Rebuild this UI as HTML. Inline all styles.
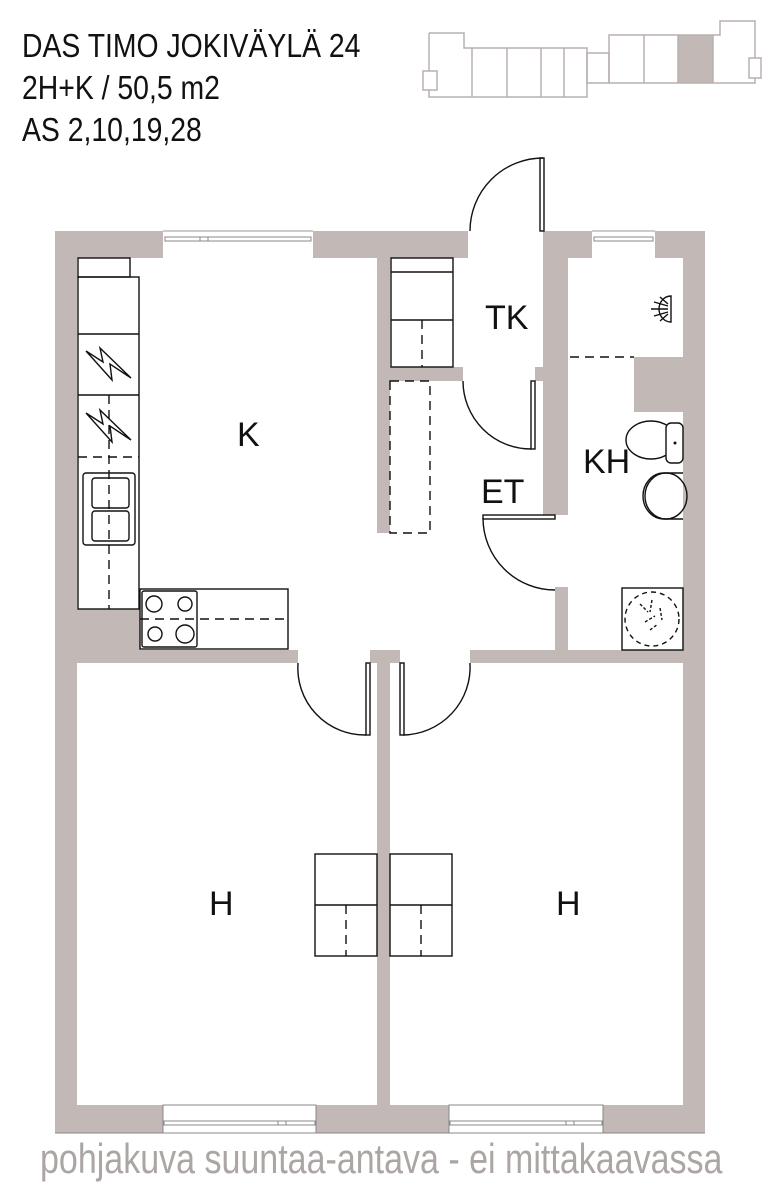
<!DOCTYPE html>
<html><head><meta charset="utf-8"><style>
html,body{margin:0;padding:0;background:#fff;}
svg{display:block;}
</style></head><body>
<svg width="782" height="1200" viewBox="0 0 782 1200" xmlns="http://www.w3.org/2000/svg" font-family="Liberation Sans, sans-serif">
<rect width="782" height="1200" fill="#fff"/>
<!-- Title -->
<g fill="#111" font-size="33">
<text x="22" y="57" transform="translate(22 0) scale(0.86 1) translate(-22 0)">DAS TIMO JOKIVÄYLÄ 24</text>
<text x="22" y="99" transform="translate(22 0) scale(0.86 1) translate(-22 0)">2H+K / 50,5 m2</text>
<text x="22" y="141" transform="translate(22 0) scale(0.86 1) translate(-22 0)">AS 2,10,19,28</text>
</g>
<!-- thumbnail -->
<rect x="678" y="35" width="35" height="48" fill="#c2b9b6"/>
<g fill="none" stroke="#b8b0ad" stroke-width="1.5">
<polyline points="429,33 464,33 464,48 587,48 587,97 429,97 429,33"/>
<rect x="423" y="71" width="14" height="19" fill="#fff"/>
<line x1="472" y1="48" x2="472" y2="97"/><line x1="507" y1="48" x2="507" y2="97"/><line x1="541" y1="48" x2="541" y2="97"/><line x1="564" y1="48" x2="564" y2="97"/>
<rect x="587" y="53" width="22" height="30"/>
<polyline points="609,83 609,35 720,35 720,21 755,21 755,83 609,83"/>
<line x1="644" y1="35" x2="644" y2="83"/><line x1="678" y1="35" x2="678" y2="83"/><line x1="713" y1="35" x2="713" y2="83"/>
<rect x="749" y="58" width="12" height="20" fill="#fff"/>
</g>

<!-- walls -->
<g fill="#c2b9b6">
<rect x="55" y="231" width="413" height="27"/>
<rect x="543" y="231" width="162" height="27"/>
<rect x="55" y="231" width="22" height="902"/>
<rect x="683" y="231" width="22" height="902"/>
<rect x="55" y="1105" width="650" height="28"/>
<rect x="77" y="650" width="221" height="13"/>
<rect x="370" y="650" width="30" height="13"/>
<rect x="470" y="650" width="213" height="13"/>
<rect x="77" y="609" width="63" height="41"/>
<rect x="377" y="650" width="13" height="455"/>
<rect x="377" y="258" width="13" height="275"/>
<rect x="377" y="367" width="86" height="14"/>
<rect x="543" y="258" width="12" height="257"/>
<rect x="535" y="367" width="20" height="14"/>
<rect x="555" y="258" width="13" height="257"/>
<rect x="555" y="587" width="13" height="63"/>
<rect x="634" y="357" width="49" height="55"/>
</g>
<g stroke="#888" stroke-width="1"><line x1="55" y1="1133" x2="705" y2="1133"/></g>
<!-- windows -->
<g fill="#fff" stroke="#888" stroke-width="1">
<rect x="163" y="231" width="150" height="27" stroke="none"/>
<rect x="592" y="231" width="63" height="27" stroke="none"/>
<rect x="163" y="1105" width="153" height="28"/>
<rect x="449" y="1105" width="154" height="28"/>
<rect x="165" y="237" width="146" height="4"/><rect x="200" y="237" width="8" height="4"/>
<rect x="594" y="237" width="59" height="4"/>
<rect x="164" y="1121" width="151" height="4"/><rect x="278" y="1121" width="8" height="4"/>
<rect x="450" y="1121" width="152" height="4"/><rect x="566" y="1121" width="8" height="4"/>
</g>
<g stroke="#999" stroke-width="1"><line x1="163" y1="231" x2="313" y2="231"/><line x1="592" y1="231" x2="655" y2="231"/></g>

<!-- fixtures -->
<g fill="none" stroke="#111" stroke-width="1.4">
<rect x="78" y="258" width="52" height="19"/>
<rect x="78" y="277" width="61" height="332"/>
<line x1="78" y1="334" x2="139" y2="334"/>
<line x1="78" y1="395" x2="139" y2="395"/>
<polyline points="86,351 103,362 100,348 131,378 110,364 112,380 86,351"/>
<polyline points="86,413 103,424 100,410 131,440 110,426 112,442 86,413"/>
<rect x="83" y="473" width="52" height="72" rx="3"/>
<rect x="92" y="478" width="37" height="30" rx="3"/>
<rect x="92" y="511" width="37" height="30" rx="3"/>
<rect x="140" y="589" width="148" height="60"/>
<rect x="142" y="591" width="55" height="56" rx="2"/>
<circle cx="154" cy="604" r="8"/><circle cx="185" cy="604" r="7"/>
<circle cx="155" cy="634" r="7"/><circle cx="185" cy="634" r="9"/>
<rect x="391" y="258" width="62" height="109"/>
<line x1="391" y1="272" x2="453" y2="272"/>
<line x1="391" y1="320" x2="453" y2="320"/>
<rect x="315" y="854" width="62" height="102"/>
<line x1="315" y1="905" x2="377" y2="905"/>
<rect x="390" y="854" width="62" height="102"/>
<line x1="390" y1="905" x2="452" y2="905"/>
<rect x="622" y="588" width="61" height="62"/>
<path d="M470,231 A73,73 0 0 1 543,158"/>
<rect x="540" y="158" width="4" height="73"/>
<path d="M463,381 A68,68 0 0 0 531,449"/>
<rect x="531" y="381" width="4" height="68"/>
<path d="M483,518 A72,72 0 0 0 555,590"/>
<rect x="483" y="515" width="72" height="4"/>
<path d="M298,663 A67,67 0 0 0 366,735"/>
<rect x="366" y="663" width="4" height="72"/>
<path d="M470,663 A68,68 0 0 1 403,735"/>
<rect x="400" y="663" width="4" height="72"/>
<ellipse cx="651" cy="440" rx="25" ry="19" fill="#fff"/>
<rect x="666" y="423" width="17" height="40" rx="5" fill="#fff"/>
<path d="M683,473 L664,473 A21,23 0 1 0 664,519 L683,519"/>
<ellipse cx="666" cy="496" rx="21" ry="23"/>
<path d="M671,296 A12,13 0 0 0 671,322 Z"/>
<path d="M654,302 L668,306 M651,309 L668,309 M654,316 L668,312 M660,297 L668,304 M660,321 L668,314"/>
<path d="M640,604 L648,612 M652,600 L650,612 M645,622 L655,616 M660,608 L662,620 M650,630 L658,624" stroke-dasharray="3,2"/>
</g>
<circle cx="675" cy="443" r="1.5" fill="#111"/>
<g fill="none" stroke="#111" stroke-width="1.4" stroke-dasharray="9,6">
<line x1="78" y1="457" x2="139" y2="457"/>
<line x1="109" y1="395" x2="109" y2="609"/>
<line x1="140" y1="619" x2="288" y2="619"/>
<line x1="422" y1="320" x2="422" y2="367"/>
<rect x="390" y="381" width="40" height="152"/>
<line x1="346" y1="905" x2="346" y2="956"/>
<line x1="421" y1="905" x2="421" y2="956"/>
<line x1="570" y1="357" x2="634" y2="357"/>
<circle cx="652" cy="619" r="27" stroke-dasharray="5,4"/>
</g>
<g fill="#111" font-size="34">
<text x="237" y="446">K</text>
<text x="485" y="329">TK</text>
<text x="481" y="503">ET</text>
<text x="583" y="473">KH</text>
<text x="209" y="915">H</text>
<text x="556" y="915">H</text>
</g>
<text x="40" y="1173" fill="#aba5a3" font-size="42" transform="translate(40 0) scale(0.81 1) translate(-40 0)">pohjakuva suuntaa-antava - ei mittakaavassa</text>
</svg>
</body></html>
